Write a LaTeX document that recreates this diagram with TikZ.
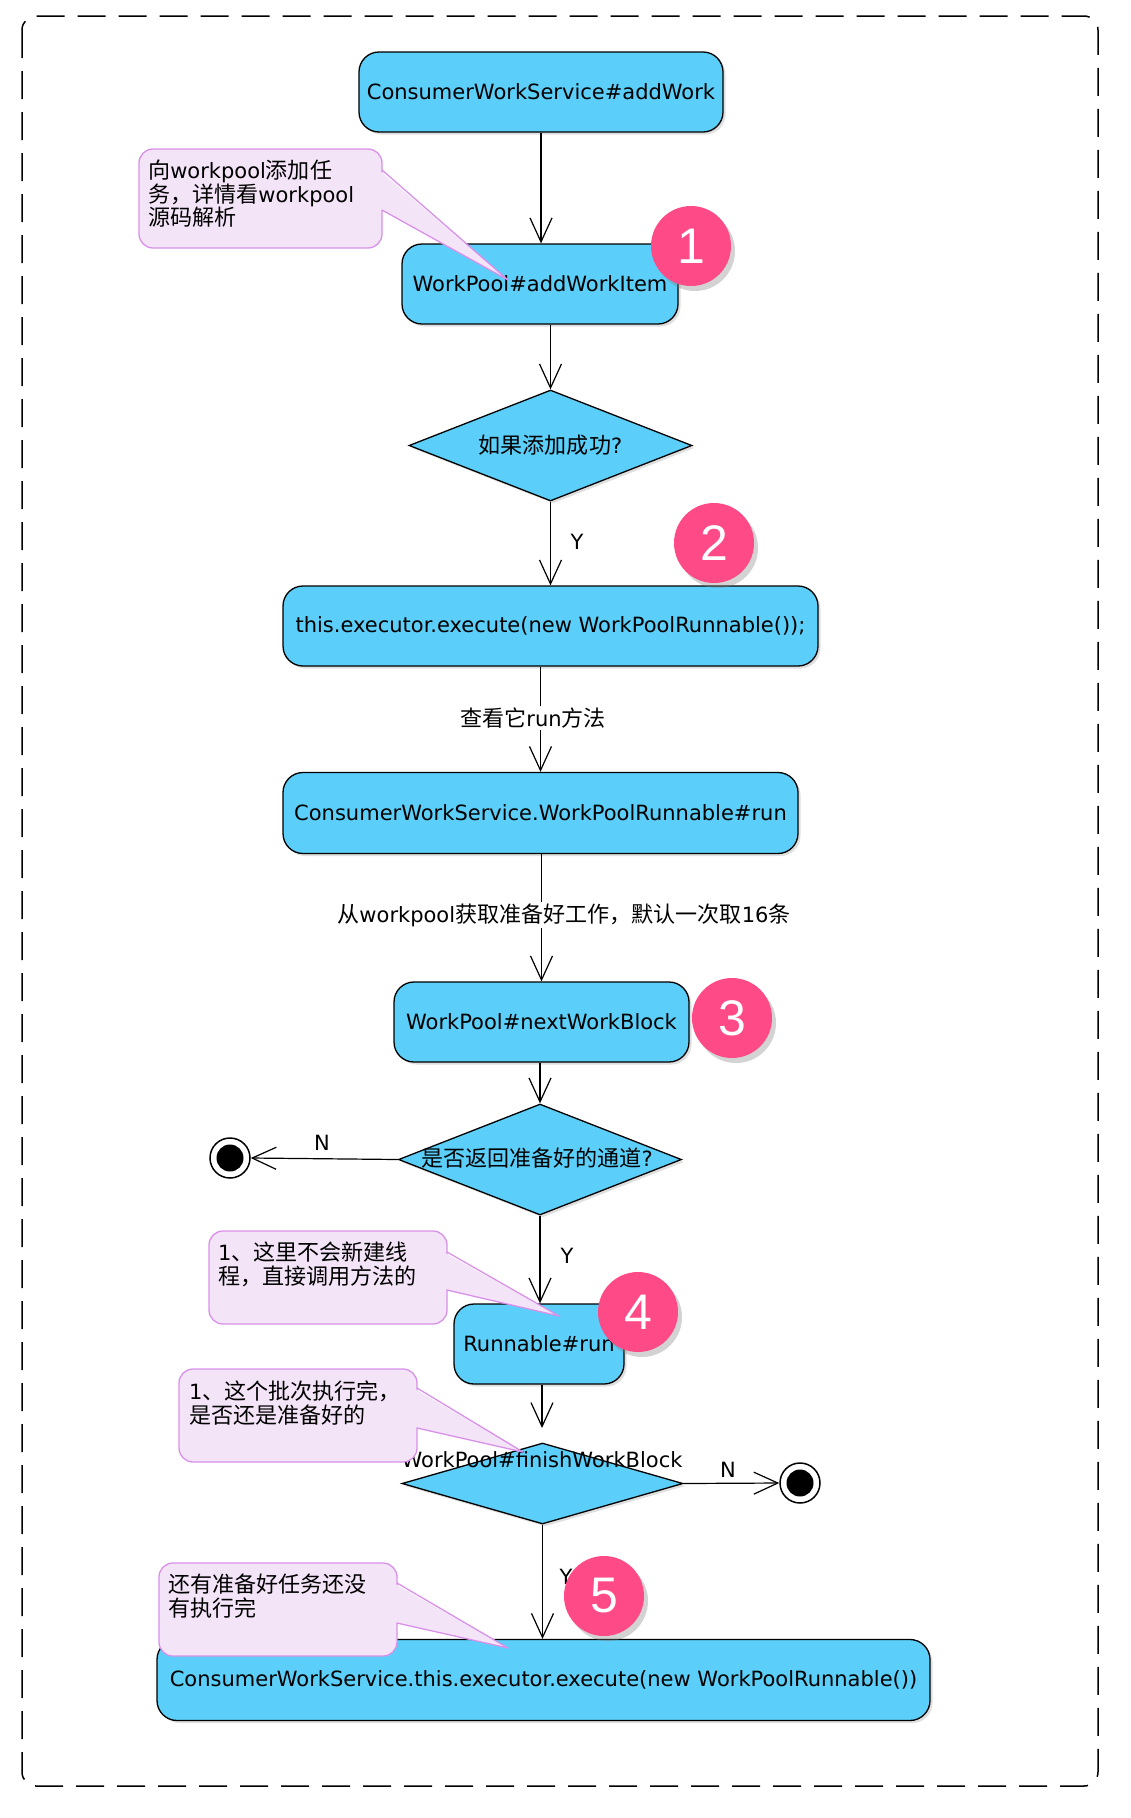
\documentclass[tikz,border=0pt]{standalone}
\usepackage{fontspec}
\setmainfont{DejaVu Sans}
\newfontfamily\cjk[Scale=1.05]{Noto Sans CJK SC}
\newfontfamily\numfont{Liberation Sans}
\usetikzlibrary{arrows.meta,shapes.geometric,shadows}
\definecolor{actfill}{HTML}{5BCFF9}
\definecolor{badgepink}{HTML}{FF4A88}
\definecolor{notefill}{HTML}{F4E4F8}
\definecolor{notedraw}{HTML}{D890E8}
\newcommand\zh[1]{{\cjk #1}}
\tikzset{
  act/.style={draw=black, line width=1.3pt, fill=actfill, rounded corners=20pt, minimum height=80pt, inner sep=0pt,
    font=\fontsize{21}{25}\selectfont, drop shadow={shadow xshift=2.5pt, shadow yshift=-2.5pt, opacity=0.25}},
  dia/.style={draw=black, line width=1.3pt, fill=actfill, shape=diamond, inner sep=0pt,
    drop shadow={shadow xshift=2.5pt, shadow yshift=-2.5pt, opacity=0.25}},
  flow/.style={draw=black, line width=1.2pt, -{Straight Barb[length=24pt,width=22pt,line width=1.2pt]}},
  lbl/.style={font=\fontsize{21}{25}\selectfont, inner sep=2pt},
  badge/.style={circle, fill=badgepink, minimum size=80pt, inner sep=0pt, text=white,
    font=\numfont\fontsize{50}{50}\selectfont, drop shadow={shadow xshift=4pt, shadow yshift=-5pt, opacity=0.35}},
  notebox/.style={draw=notedraw, fill=notefill, line width=1.3pt, rounded corners=14pt},
  notetip/.style={draw=notedraw, line width=1.3pt, line join=round},
  notetext/.style={anchor=north west, align=left, inner sep=0pt, font=\fontsize{21}{23.5}\selectfont},
  endring/.style={circle, draw=black, line width=1.5pt, fill=white, minimum size=40pt, inner sep=0pt},
  enddot/.style={circle, fill=black, minimum size=27pt, inner sep=0pt},
}
\begin{document}
\begin{tikzpicture}[x=1pt,y=-1pt]
\useasboundingbox (0,0) rectangle (1130,1818);
% frame
\draw[line width=1.5pt, dash pattern=on 28pt off 13pt, rounded corners=14pt] (22,16) rectangle (1098,1786);

% activity nodes
\node[act, minimum width=364pt] (n1) at (541,92) {ConsumerWorkService\#addWork};
\node[act, minimum width=276pt] (n2) at (540,284) {WorkPool\#addWorkItem};
\node[dia, minimum width=283pt, minimum height=111pt] (d1) at (550.5,445.5) {};
\node[lbl] (d1t) at (d1.center) {\zh{如果添加成功}?};
\node[act, minimum width=535pt] (n3) at (550.5,626) {this.executor.execute(new WorkPoolRunnable());};
\node[act, minimum width=515pt, minimum height=81pt] (n4) at (540.5,813) {ConsumerWorkService.WorkPoolRunnable\#run};
\node[act, minimum width=295pt] (n5) at (541.5,1022) {WorkPool\#nextWorkBlock};
\node[dia, minimum width=283pt, minimum height=111pt] (d2) at (540,1159.5) {};
\node[lbl] (d2t) at (537,1158) {\zh{是否返回准备好的通道}?};
\node[act, minimum width=170pt] (n6) at (539,1344) {Runnable\#run};
\node[dia, minimum width=281pt, minimum height=81pt] (d3) at (542.5,1483.5) {};
\node[lbl] (d3t) at (542,1460) {WorkPool\#finishWorkBlock};
\node[act, minimum width=773pt, minimum height=81pt] (n7) at (543.5,1680) {ConsumerWorkService.this.executor.execute(new WorkPoolRunnable())};

% end markers
\node[endring] (e1) at (230,1158) {};
\node[enddot] (e1d) at (e1.center) {};
\node[endring] (e2) at (800,1483) {};
\node[enddot] (e2d) at (e2.center) {};
\coordinate (c3) at (542,1428);

% connectors
\draw[flow] (n1.south) -- (n1.south |- n2.north);
\draw[flow] (d1.north |- n2.south) -- (d1.north);
\draw[flow] (d1.south) -- (d1.south |- n3.north);
\node[lbl] (y1) at (577,542) {Y};
\draw[flow] (n4.north |- n3.south) -- (n4.north);
\node[lbl, fill=white] (l1) at (533,718) {\zh{查看它}run\zh{方法}};
\draw[flow] (n5.north |- n4.south) -- (n5.north);
\node[lbl, fill=white] (l2) at (564,915) {\zh{从}workpool\zh{获取准备好工作，默认一次取}16\zh{条}};
\draw[flow] (d2.north |- n5.south) -- (d2.north);
\draw[flow] (d2.west) -- (e1.east);
\node[lbl] (nl1) at (322,1143) {N};
\draw[flow] (d2.south) -- (d2.south |- n6.north);
\node[lbl] (y2) at (567,1256) {Y};
\draw[flow] (c3 |- n6.south) -- (c3);
\draw[flow] (d3.east) -- (e2.west);
\node[lbl] (nl2) at (728,1470) {N};
\draw[flow] (d3.south) -- (d3.south |- n7.north);
\node[lbl] (y3) at (566,1577) {Y};

% notes
\path[notebox] (139,149) rectangle (382,248);
\fill[notefill] (380,171) -- (508,280) -- (380,209) -- cycle;
\draw[notetip] (382,170) -- (508,280) -- (382,210);
\node[notetext] (t1) at (148,160) {\zh{向}workpool\zh{添加任}\\\zh{务，详情看}workpool\\\zh{源码解析}};

\path[notebox] (209,1231) rectangle (447,1324);
\fill[notefill] (445,1253) -- (559,1316) -- (445,1289) -- cycle;
\draw[notetip] (447,1252) -- (559,1316) -- (447,1290);
\node[notetext] (t2) at (218,1242) {1\zh{、这里不会新建线}\\\zh{程，直接调用方法的}};

\path[notebox] (179,1369) rectangle (417,1462);
\fill[notefill] (415,1389) -- (523,1452) -- (415,1427) -- cycle;
\draw[notetip] (417,1388) -- (523,1452) -- (417,1428);
\node[notetext] (t3) at (189,1381) {1\zh{、这个批次执行完，}\\\zh{是否还是准备好的}};

\path[notebox] (159,1563) rectangle (397,1656);
\fill[notefill] (395,1584) -- (508,1648) -- (395,1622) -- cycle;
\draw[notetip] (397,1583) -- (508,1648) -- (397,1623);
\node[notetext] (t4) at (168,1574) {\zh{还有准备好任务还没}\\\zh{有执行完}};

% badges
\node[badge] (b1) at (691,246) {1};
\node[badge] (b2) at (714,543) {2};
\node[badge] (b3) at (732,1018) {3};
\node[badge] (b4) at (638,1312) {4};
\node[badge] (b5) at (604,1596) {5};
\end{tikzpicture}
\end{document}
